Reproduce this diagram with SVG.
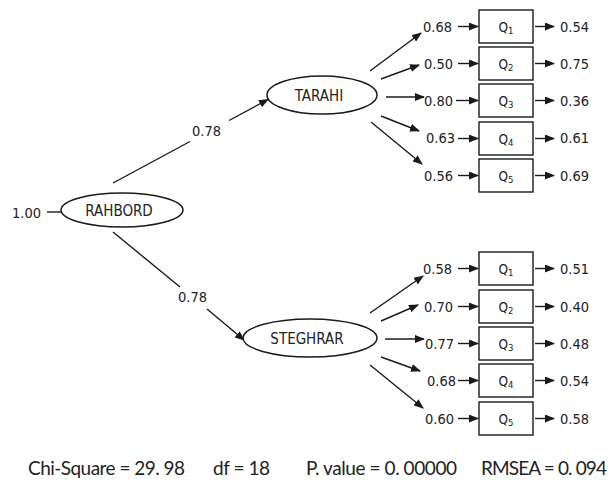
<svg xmlns="http://www.w3.org/2000/svg" width="609" height="481" viewBox="0 0 609 481">
<defs>
<marker id="ah" markerUnits="userSpaceOnUse" markerWidth="10" markerHeight="8" refX="9" refY="4" orient="auto">
<path d="M0,0 L10,4 L0,8 z" fill="#1a1a1a"/>
</marker>
<style>
.ln{stroke:#1a1a1a;stroke-width:1.4;fill:none}
.ar{stroke:#1a1a1a;stroke-width:1.4;fill:none;marker-end:url(#ah)}
.el{fill:#fff;stroke:#1a1a1a;stroke-width:1.5}
.bx{fill:#fff;stroke:#1a1a1a;stroke-width:1.4}
.t{font-family:"DejaVu Sans Condensed","DejaVu Sans",sans-serif;font-stretch:condensed;font-size:14.5px;fill:#222}
.n{font-family:"DejaVu Sans Condensed","DejaVu Sans",sans-serif;font-stretch:condensed;font-size:15px;fill:#222}
.q{font-family:"DejaVu Sans Condensed","DejaVu Sans",sans-serif;font-stretch:condensed;font-size:13.5px;fill:#222}
.s{font-size:9.5px}
.f{font-family:Lato,"Open Sans",sans-serif;font-size:19px;fill:#222}
</style>
</defs>
<rect width="609" height="481" fill="#fff"/>
<g id="connectors">
<line class="ln" x1="47" y1="212" x2="61" y2="212"/>
<line class="ln" x1="113" y1="183" x2="190" y2="141.5"/>
<line class="ar" x1="229" y1="120.5" x2="268" y2="99.5"/>
<line class="ln" x1="113" y1="232" x2="180" y2="287"/>
<line class="ar" x1="207" y1="309" x2="244" y2="340"/>
<line class="ar" x1="370" y1="71" x2="421" y2="33"/>
<line class="ar" x1="381" y1="79" x2="419" y2="65"/>
<line class="ar" x1="386" y1="97" x2="424" y2="97"/>
<line class="ar" x1="381" y1="116" x2="419" y2="131"/>
<line class="ar" x1="371" y1="122" x2="422" y2="164"/>
<line class="ar" x1="370" y1="313" x2="423" y2="276"/>
<line class="ar" x1="381" y1="321" x2="418" y2="305"/>
<line class="ar" x1="385" y1="339" x2="424" y2="339"/>
<line class="ar" x1="381" y1="357" x2="420" y2="371"/>
<line class="ar" x1="370" y1="365" x2="423" y2="408"/>
<line class="ar" x1="458" y1="26.5" x2="478" y2="26.5"/>
<line class="ar" x1="458" y1="63.5" x2="478" y2="63.5"/>
<line class="ar" x1="456" y1="100.5" x2="478" y2="100.5"/>
<line class="ar" x1="458" y1="138.5" x2="478" y2="138.5"/>
<line class="ar" x1="458" y1="175.5" x2="478" y2="175.5"/>
<line class="ar" x1="535" y1="26.5" x2="554" y2="26.5"/>
<line class="ar" x1="535" y1="63.5" x2="554" y2="63.5"/>
<line class="ar" x1="535" y1="100.5" x2="554" y2="100.5"/>
<line class="ar" x1="535" y1="138.5" x2="554" y2="138.5"/>
<line class="ar" x1="535" y1="175.5" x2="554" y2="175.5"/>
<line class="ar" x1="458" y1="268.5" x2="478" y2="268.5"/>
<line class="ar" x1="458" y1="306.5" x2="478" y2="306.5"/>
<line class="ar" x1="458" y1="343.5" x2="478" y2="343.5"/>
<line class="ar" x1="458" y1="380.5" x2="478" y2="380.5"/>
<line class="ar" x1="458" y1="418.5" x2="478" y2="418.5"/>
<line class="ar" x1="535" y1="268.5" x2="554" y2="268.5"/>
<line class="ar" x1="535" y1="306.5" x2="554" y2="306.5"/>
<line class="ar" x1="535" y1="343.5" x2="554" y2="343.5"/>
<line class="ar" x1="535" y1="380.5" x2="554" y2="380.5"/>
<line class="ar" x1="535" y1="418.5" x2="554" y2="418.5"/>
</g>
<g id="labels">
<text class="t" x="12" y="218">1.00</text>
<text class="t" x="192" y="136">0.78</text>
<text class="t" x="178" y="302">0.78</text>
<text class="t" x="423" y="32">0.68</text>
<text class="t" x="424" y="69">0.50</text>
<text class="t" x="424" y="106">0.80</text>
<text class="t" x="426" y="143">0.63</text>
<text class="t" x="424" y="181">0.56</text>
<text class="t" x="560" y="32">0.54</text>
<text class="t" x="560" y="69">0.75</text>
<text class="t" x="560" y="106">0.36</text>
<text class="t" x="560" y="143">0.61</text>
<text class="t" x="560" y="181">0.69</text>
<text class="t" x="423" y="274">0.58</text>
<text class="t" x="424" y="312">0.70</text>
<text class="t" x="425" y="349">0.77</text>
<text class="t" x="427" y="386">0.68</text>
<text class="t" x="425" y="424">0.60</text>
<text class="t" x="560" y="274">0.51</text>
<text class="t" x="560" y="312">0.40</text>
<text class="t" x="560" y="349">0.48</text>
<text class="t" x="560" y="386">0.54</text>
<text class="t" x="560" y="424">0.58</text>
</g>
<g id="rahbord">
<ellipse class="el" cx="122" cy="210" rx="61" ry="17"/>
<text class="n" x="119" y="216" text-anchor="middle">RAHBORD</text>
</g>
<g id="tarahi">
<ellipse class="el" cx="322" cy="95" rx="55" ry="19"/>
<text class="n" x="319" y="101" text-anchor="middle">TARAHI</text>
</g>
<g id="steghrar">
<ellipse class="el" cx="310" cy="338" rx="67" ry="19"/>
<text class="n" x="307" y="344" text-anchor="middle">STEGHRAR</text>
</g>
<g id="t-q1"><rect class="bx" x="479" y="10" width="54" height="33"/><text class="q" x="506" y="32" text-anchor="middle">Q<tspan class="s" dy="2">1</tspan></text></g>
<g id="t-q2"><rect class="bx" x="479" y="47" width="54" height="33"/><text class="q" x="506" y="69" text-anchor="middle">Q<tspan class="s" dy="2">2</tspan></text></g>
<g id="t-q3"><rect class="bx" x="479" y="84" width="54" height="33"/><text class="q" x="506" y="106" text-anchor="middle">Q<tspan class="s" dy="2">3</tspan></text></g>
<g id="t-q4"><rect class="bx" x="479" y="122" width="54" height="33"/><text class="q" x="506" y="144" text-anchor="middle">Q<tspan class="s" dy="2">4</tspan></text></g>
<g id="t-q5"><rect class="bx" x="479" y="159" width="54" height="33"/><text class="q" x="506" y="181" text-anchor="middle">Q<tspan class="s" dy="2">5</tspan></text></g>
<g id="s-q1"><rect class="bx" x="479" y="252" width="54" height="33"/><text class="q" x="506" y="274" text-anchor="middle">Q<tspan class="s" dy="2">1</tspan></text></g>
<g id="s-q2"><rect class="bx" x="479" y="290" width="54" height="33"/><text class="q" x="506" y="312" text-anchor="middle">Q<tspan class="s" dy="2">2</tspan></text></g>
<g id="s-q3"><rect class="bx" x="479" y="327" width="54" height="33"/><text class="q" x="506" y="349" text-anchor="middle">Q<tspan class="s" dy="2">3</tspan></text></g>
<g id="s-q4"><rect class="bx" x="479" y="364" width="54" height="33"/><text class="q" x="506" y="386" text-anchor="middle">Q<tspan class="s" dy="2">4</tspan></text></g>
<g id="s-q5"><rect class="bx" x="479" y="402" width="54" height="33"/><text class="q" x="506" y="424" text-anchor="middle">Q<tspan class="s" dy="2">5</tspan></text></g>
<g id="footer">
<text class="f" x="28" y="475" textLength="157" lengthAdjust="spacing">Chi-Square = 29. 98</text>
<text class="f" x="213" y="475" textLength="57" lengthAdjust="spacing">df = 18</text>
<text class="f" x="306" y="475" textLength="151" lengthAdjust="spacing">P. value = 0. 00000</text>
<text class="f" x="481" y="475" textLength="126" lengthAdjust="spacing">RMSEA = 0. 094</text>
</g>
</svg>
